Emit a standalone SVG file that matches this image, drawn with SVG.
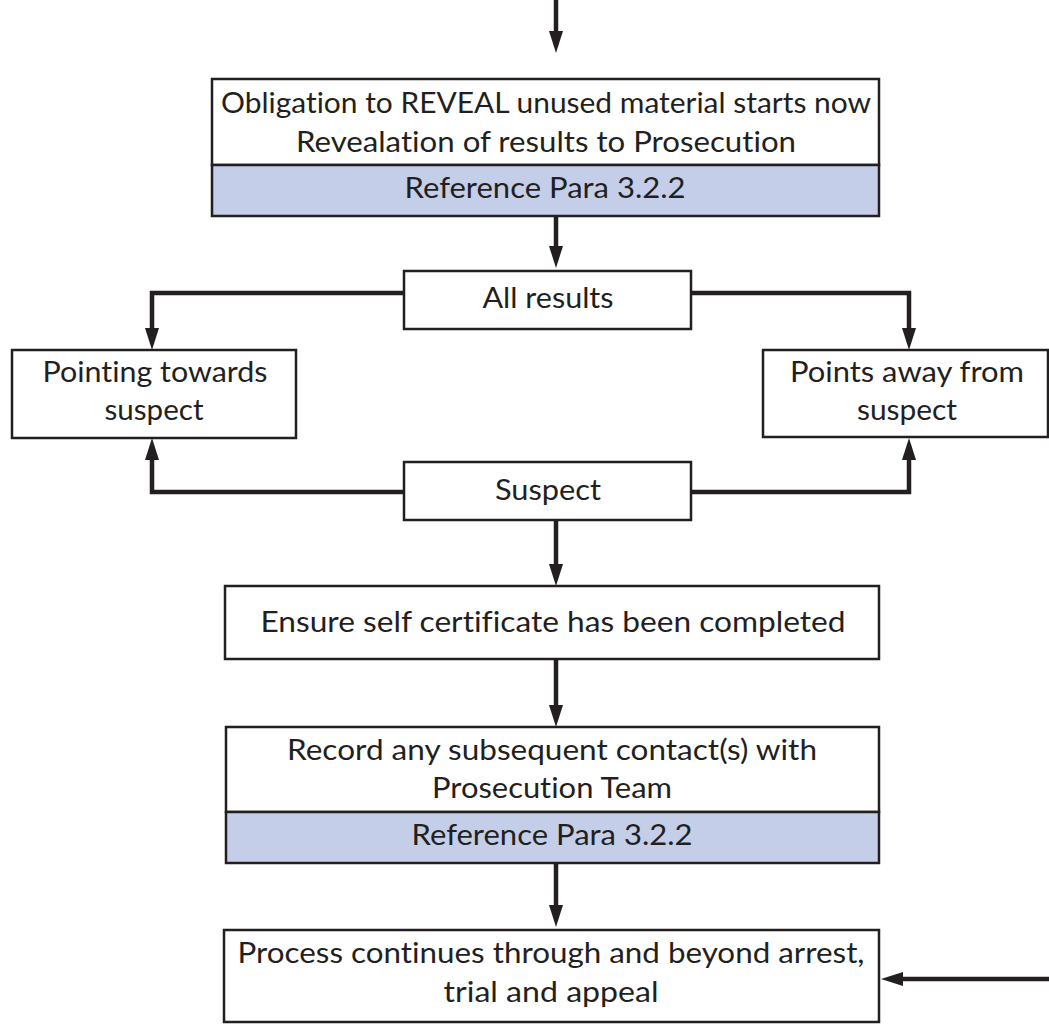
<svg xmlns="http://www.w3.org/2000/svg" width="1049" height="1024" viewBox="0 0 1049 1024">
<defs>
<style>
.box{fill:#ffffff;stroke:#231f20;stroke-width:2.5}
.band{fill:#c4cee9;stroke:#231f20;stroke-width:2.5}
.t{font-family:Lato,"Open Sans","Liberation Sans",sans-serif;font-size:29px;fill:#231f20;text-anchor:middle;font-variant-ligatures:none;font-feature-settings:"liga" 0,"clig" 0}
.c{fill:none;stroke:#231f20;stroke-width:4.5;stroke-linejoin:miter}
</style>
<marker id="ah" markerUnits="userSpaceOnUse" viewBox="0 0 22 14" markerWidth="22" markerHeight="14" refX="1" refY="7" orient="auto">
<path d="M0,0 L22,7 L0,14 Z" fill="#231f20"/>
</marker>
</defs>
<rect width="1049" height="1024" fill="#ffffff"/>

<g id="connectors">
<path class="c" d="M556,0 V32" marker-end="url(#ah)"/>
<path class="c" d="M556,217 V247" marker-end="url(#ah)"/>
<path class="c" d="M404,293 H152 V329" marker-end="url(#ah)"/>
<path class="c" d="M691,293 H909 V329" marker-end="url(#ah)"/>
<path class="c" d="M404,492 H152 V459" marker-end="url(#ah)"/>
<path class="c" d="M691,492 H909 V459" marker-end="url(#ah)"/>
<path class="c" d="M556,521 V565" marker-end="url(#ah)"/>
<path class="c" d="M556,660 V706" marker-end="url(#ah)"/>
<path class="c" d="M556,864 V906" marker-end="url(#ah)"/>
<path class="c" d="M1049,979 H902" marker-end="url(#ah)"/>
</g>

<g id="obligation">
<rect class="box" x="212" y="79" width="667" height="86"/>
<rect class="band" x="212" y="165" width="667" height="51"/>
<text class="t" x="546" y="113" textLength="650" lengthAdjust="spacingAndGlyphs">Obligation to REVEAL unused material starts now</text>
<text class="t" x="546" y="152" textLength="500" lengthAdjust="spacingAndGlyphs">Revealation of results to Prosecution</text>
<text class="t" x="545" y="198" textLength="281" lengthAdjust="spacingAndGlyphs">Reference Para 3.2.2</text>
</g>

<g id="all-results">
<rect class="box" x="404" y="271" width="287" height="58"/>
<text class="t" x="548" y="308" textLength="131" lengthAdjust="spacingAndGlyphs">All results</text>
</g>

<g id="pointing-towards">
<rect class="box" x="12" y="350" width="284" height="88"/>
<text class="t" x="155" y="382" textLength="225" lengthAdjust="spacingAndGlyphs">Pointing towards</text>
<text class="t" x="154" y="420" textLength="99" lengthAdjust="spacingAndGlyphs">suspect</text>
</g>

<g id="points-away">
<rect class="box" x="763" y="350" width="285" height="87"/>
<text class="t" x="907" y="382" textLength="234" lengthAdjust="spacingAndGlyphs">Points away from</text>
<text class="t" x="907" y="420" textLength="100" lengthAdjust="spacingAndGlyphs">suspect</text>
</g>

<g id="suspect">
<rect class="box" x="404" y="462" width="287" height="58"/>
<text class="t" x="548" y="500" textLength="106" lengthAdjust="spacingAndGlyphs">Suspect</text>
</g>

<g id="ensure">
<rect class="box" x="225" y="586" width="654" height="73"/>
<text class="t" x="553" y="632" textLength="585" lengthAdjust="spacingAndGlyphs">Ensure self certificate has been completed</text>
</g>

<g id="record">
<rect class="box" x="226" y="727" width="653" height="85"/>
<rect class="band" x="226" y="812" width="653" height="51"/>
<text class="t" x="552" y="760" textLength="530" lengthAdjust="spacingAndGlyphs">Record any subsequent contact(s) with</text>
<text class="t" x="552" y="798" textLength="240" lengthAdjust="spacingAndGlyphs">Prosecution Team</text>
<text class="t" x="552" y="845" textLength="281" lengthAdjust="spacingAndGlyphs">Reference Para 3.2.2</text>
</g>

<g id="process">
<rect class="box" x="224" y="930" width="655" height="92"/>
<text class="t" x="551" y="963" textLength="627" lengthAdjust="spacingAndGlyphs">Process continues through and beyond arrest,</text>
<text class="t" x="551" y="1002" textLength="215" lengthAdjust="spacingAndGlyphs">trial and appeal</text>
</g>
</svg>
